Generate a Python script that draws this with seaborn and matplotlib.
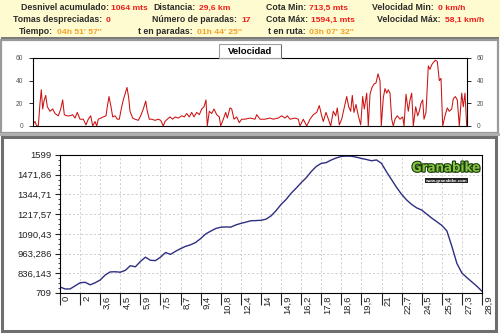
import numpy as np
import pandas as pd
import matplotlib
matplotlib.use("Agg")
import matplotlib.pyplot as plt
import seaborn as sns
from matplotlib.patches import Rectangle
from matplotlib.ticker import AutoMinorLocator
import matplotlib.patheffects as pe
import matplotlib.transforms as mtrans

# ---------------- data ----------------
summary_labels = ["Desnivel acumulado:", "Tomas despreciadas:", "Tiempo:",
                  "Distancia:", "Número de paradas:", "t en paradas:",
                  "Cota Min:", "Cota Máx:", "t en ruta:",
                  "Velocidad Min:", "Velocidad Máx:"]
summary_values = ["1064 mts", "0", "04h 51' 57''",
                  "29,6 km", "17", "01h 44' 25''",
                  "713,5 mts", "1594,1 mts", "03h 07' 32''",
                  "0 km/h", "58,1 km/h"]
summary_is_time = [False, False, True, False, False, True, False, False, True, False, False]

dist_labels = ["0", "2", "3,6", "4,5", "5,9", "7,5", "8,7", "9,4", "10,8", "12,4", "14",
               "14,9", "16,2", "17,8", "18,6", "19,5", "21", "22,7", "24,5", "25,4",
               "27,3", "28,9"]
elevation = [748, 735, 735, 755, 775, 778, 762, 775, 793, 825, 845, 846, 843, 855,
             885, 878, 912, 940, 920, 918, 940, 970, 958, 978, 995, 1010, 1020, 1035,
             1060, 1090, 1108, 1125, 1133, 1135, 1134, 1148, 1158, 1166, 1175, 1176,
             1178, 1185, 1206, 1240, 1280, 1312, 1352, 1385, 1420, 1452, 1492, 1525,
             1545, 1550, 1567, 1580, 1590, 1592, 1591, 1585, 1577, 1570, 1562, 1567,
             1545, 1490, 1440, 1390, 1345, 1309, 1280, 1258, 1244, 1218, 1192, 1169,
             1145, 1110, 1010, 900, 838, 808, 780, 752, 720]
elev_tick_values = [709, 836.143, 963.286, 1090.43, 1217.57, 1344.71, 1471.86, 1599]
elev_tick_labels = ["709", "836,143", "963,286", "1090,43", "1217,57", "1344,71",
                    "1471,86", "1599"]

vel_t = [0.3, 2, 3.7, 5.3, 7, 8.3, 9.7, 11, 12.7, 14.3, 17, 19.7, 22, 25.3, 27.7, 29.7,
         31.3, 33.7, 37, 39.7, 42, 44.3, 47, 50.3, 53, 55.3, 57.7, 59.7, 62, 63.7, 65.3,
         67.7, 70.3, 73, 74.3, 76, 78, 79.7, 82, 84.3, 86.3, 88.7, 90.3, 92.3, 94, 95.7,
         97, 99.7, 102, 105.3, 107.7, 110.3, 112.7, 114.3, 116.3, 118.7, 122, 125.3,
         127.7, 130.3, 132, 134.3, 137, 139.7, 142, 145.3, 148.7, 151.3, 153.7, 156.3,
         158.7, 161, 163.7, 166.3, 168.7, 171, 173, 174.3, 176.3, 178.7, 181, 183.7,
         186.3, 187.7, 190.3, 192.7, 194.3, 197, 198.7, 201, 203.7, 206.3, 208.7, 212,
         217, 222, 223.7, 227, 232, 237, 240.3, 245.3, 248.7, 252, 254.3, 257, 262,
         265.3, 267, 270.3, 273.7, 277, 280.3, 283.7, 286.3, 288.7, 290.3, 293, 295.3,
         297.7, 300.3, 302.7, 304.3, 306.3, 308.7, 311, 313.7, 315.7, 317.7, 319.3, 321,
         323, 325.3, 327.7, 329.7, 331.3, 333.7, 335.3, 337, 339, 341, 343, 345, 347,
         348.3, 350.3, 352, 353.7, 355.3, 357, 358.7, 360.3, 362, 364.3, 367, 369.7,
         371, 373, 375.3, 377, 378.7, 380.3, 382.7, 384.7, 386.3, 388, 389.7, 391, 393,
         395.3, 397, 398.7, 400.3, 402.3, 404.3, 406.3, 408, 409.7, 412, 414.3, 416.3,
         418.7, 420.3, 422.3, 424.3, 426.3, 428.7, 430.3, 432, 433.7]
vel_kmh = [2, 4, 0, 0, 20, 32, 15, 22, 27, 17, 13, 15, 11, 9, 15, 23,
           10, 9, 9, 10, 7, 12, 6, 6, 1, 6, 9, 0, 4, 0, 6,
           7, 8, 9, 17, 26, 17, 8, 9, 6, 6, 17, 23, 29, 34, 25,
           13, 7, 6, 5, 9, 15, 22, 13, 6, 6, 5, 6,
           5, 0, 4, 6, 8, 6, 8, 7, 9, 8, 11, 8,
           12, 8, 12, 10, 15, 17, 23, 0, 13, 11, 15, 10,
           8, 0, 6, 12, 7, 16, 15, 6, 8, 3, 6, 6,
           7, 6, 10, 6, 6, 7, 6, 7, 9, 7, 9, 6, 7,
           6, 0, 6, 0, 6, 10, 12, 18, 9, 4, 12, 6,
           0, 13, 9, 16, 1, 6, 15, 26, 17, 13, 27, 12,
           19, 9, 1, 26, 15, 29, 0, 28, 34, 37, 38, 46, 40,
           0, 25, 33, 29, 32, 29, 6, 0, 6, 9, 6, 8,
           0, 28, 13, 23, 29, 0, 17, 9, 13, 20, 23, 6, 12,
           53, 50, 54, 56, 58, 57, 40, 42, 0, 9, 16, 13,
           15, 24, 26, 23, 0, 29, 17, 29, 0]

# ---------------- style ----------------
sns.set_style("white")
plt.rcParams['font.family'] = ['Liberation Sans', 'DejaVu Sans']

W, H = 500, 334
fig = plt.figure(figsize=(5, 3.34), dpi=100)
fig.patch.set_facecolor('white')


def rect(l, t, r, b):
    return [l / W, 1 - b / H, (r - l) / W, (b - t) / H]


def fx(x):
    return x / W


def fy(y):
    return 1 - y / H


# panels
fig.add_artist(Rectangle((0, fy(38)), 1, 38 / H, transform=fig.transFigure,
                         facecolor='#FFFBD0', edgecolor='none', zorder=0))
fig.add_artist(Rectangle((fx(0.5), fy(38.5)), fx(498.5), 1.2 / H, transform=fig.transFigure,
                         facecolor='#7a7a7a', edgecolor='none', zorder=1))
fig.add_artist(Rectangle((fx(1), fy(133)), fx(497), (133 - 40) / H, transform=fig.transFigure,
                         fill=False, edgecolor='#9a9a9a', lw=1.6, zorder=1))
fig.add_artist(Rectangle((0, fy(136)), 1, 3 / H, transform=fig.transFigure,
                         facecolor='#b0b0b0', edgecolor='none', zorder=1))
fig.add_artist(Rectangle((fx(1.5), fy(330.5)), fx(494.5), (330.5 - 137) / H,
                         transform=fig.transFigure, fill=False, edgecolor='#6e6e6e',
                         lw=2.2, zorder=1))

# summary texts: (label right edge, baseline y, value left edge)
positions = [(109, 10, 111), (102, 22, 106), (53, 34, 57),
             (196, 10, 199), (237, 22, 241), (193, 34, 197),
             (306, 10, 309), (308, 22, 311), (306, 34, 309),
             (434, 10, 438), (441, 22, 445)]
for (lx, ly, vx), lab, val, is_t in zip(positions, summary_labels, summary_values, summary_is_time):
    fig.text(fx(lx), fy(ly), lab, fontsize=6.3, fontweight='bold', color='#2b2b2b',
             ha='right', va='baseline')
    fig.text(fx(vx), fy(ly), val, fontsize=6.1, fontweight='bold',
             color='#F0A028' if is_t else '#EE1C1C', ha='left', va='baseline')

# ---------------- velocity chart ----------------
axv = fig.add_axes(rect(33, 58, 467, 126))
vdf = pd.DataFrame({"t": vel_t, "v": vel_kmh})
sns.lineplot(data=vdf, x="t", y="v", ax=axv, color='#CC1111', lw=0.75)
axv.set_xlim(0, 434)
axv.set_ylim(0, 60)
axv.set_yticks([0, 20, 40, 60])
axv.set_xticks([])
axv.set_xlabel("")
axv.set_ylabel("")
axv.tick_params(axis='y', which='both', left=True, right=True, labelleft=True,
                labelright=True, length=3, width=0.7, labelsize=4.8, labelcolor='#555555',
                pad=4, direction='out')
for s in axv.spines.values():
    s.set_color('black')
    s.set_linewidth(0.8)
axv.set_facecolor('white')

# tab
fig.add_artist(Rectangle((fx(219), fy(57.5)), fx(62), 13 / H, transform=fig.transFigure,
                         facecolor='white', edgecolor='#a0a0a0', lw=0.8, zorder=3))
fig.add_artist(Rectangle((fx(280.5), fy(58)), 1.3 / W, 13 / H, transform=fig.transFigure,
                         facecolor='#6a6a6a', edgecolor='none', zorder=4))
fig.text(fx(250), fy(51), "Velocidad", fontsize=6.8, fontweight='bold', color='black',
         ha='center', va='center', zorder=5)

# ---------------- elevation chart ----------------
axe = fig.add_axes(rect(60, 155, 482, 293))
edf = pd.DataFrame({"i": np.arange(len(elevation)), "elev": elevation})
sns.lineplot(data=edf, x="i", y="elev", ax=axe, color='#2E2E82', lw=1.0)
n = len(elevation) - 1
axe.set_xlim(0, n)
axe.set_ylim(elev_tick_values[0], elev_tick_values[-1])
xt = np.linspace(0, n, len(dist_labels))
axe.set_xticks(xt)
axe.set_xticklabels(dist_labels, rotation=90, ha='left', va='top', fontsize=6.8,
                    color='#222222')
axe.set_yticks(elev_tick_values)
axe.set_yticklabels(elev_tick_labels, fontsize=6.8, color='#222222')
axe.yaxis.set_minor_locator(AutoMinorLocator(4))
axe.set_xlabel("")
axe.set_ylabel("")
axe.tick_params(axis='x', which='major', bottom=True, length=8.6, width=0.8, pad=-6.8,
                direction='out')
axe.tick_params(axis='y', which='major', left=True, length=3.6, width=0.8, pad=2.6,
                direction='out')
axe.tick_params(axis='y', which='minor', left=True, length=1.6, width=0.6, direction='out')
offset = mtrans.ScaledTranslation(2 / 100, 0, fig.dpi_scale_trans)
for lab in axe.get_xticklabels():
    lab.set_transform(lab.get_transform() + offset)
axe.grid(True, which='major', color='#c8c8c8', lw=0.6, linestyle=(0, (2.5, 2.5)))
for s in axe.spines.values():
    s.set_color('black')
    s.set_linewidth(0.8)
axe.set_facecolor('white')

# logo
logo = axe.text(0.915, 0.905, "Granabike", transform=axe.transAxes, fontsize=9.5,
                fontweight='bold', family='DejaVu Sans', fontstretch='condensed',
                color='#86C540', ha='center', va='center', zorder=6)
logo.set_path_effects([pe.Stroke(linewidth=1.6, foreground='#1a3a0a'), pe.Normal()])
axe.text(0.915, 0.815, "www.granabike.com", transform=axe.transAxes, fontsize=3.2,
         fontweight='bold', color='white', ha='center', va='center', zorder=6,
         bbox=dict(boxstyle='square,pad=0.15', facecolor='#222222', edgecolor='none'))

fig.savefig("out.png", dpi=100, facecolor=fig.get_facecolor())
